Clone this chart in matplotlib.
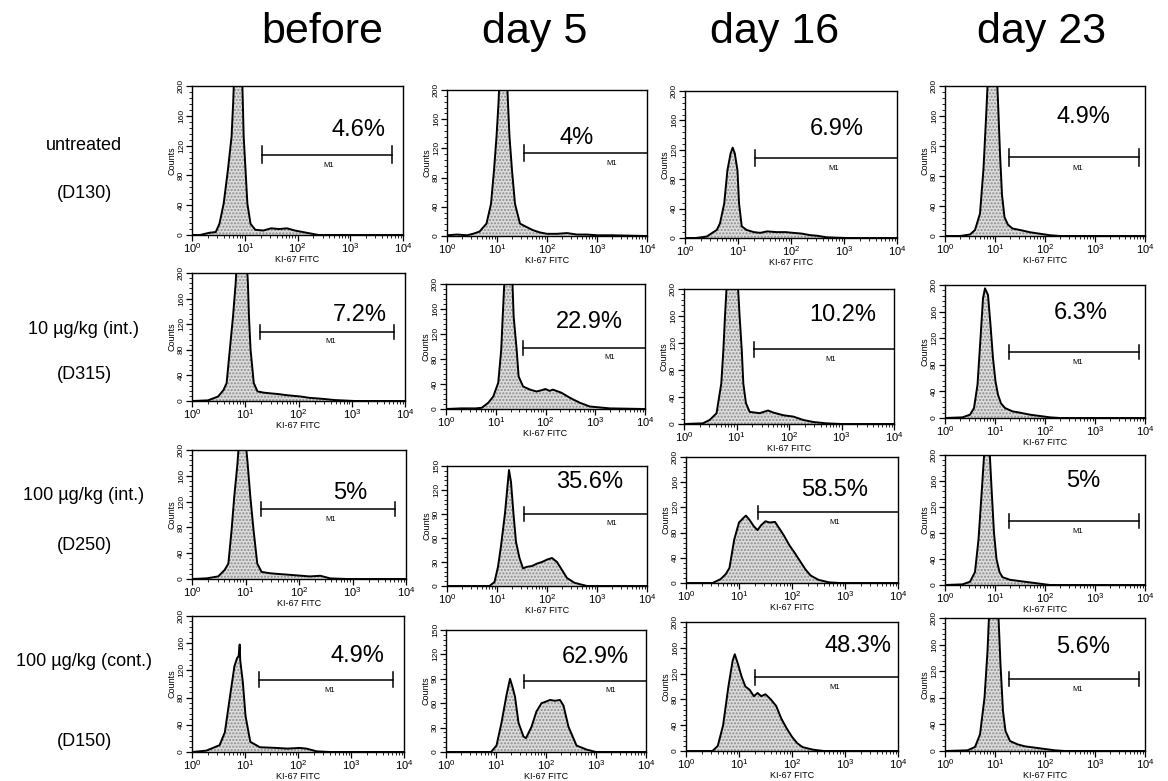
import matplotlib
matplotlib.use('Agg')
import matplotlib.pyplot as plt
import numpy as np
from matplotlib.ticker import AutoMinorLocator, LogLocator, NullFormatter, MultipleLocator

plt.rcParams['font.family'] = ['Liberation Sans', 'DejaVu Sans']

# column / row headings
col_titles = ['before', 'day 5', 'day 16', 'day 23']
row_titles = ['untreated', '10 µg/kg (int.)', '100 µg/kg (int.)', '100 µg/kg (cont.)']
row_ids = ['(D130)', '(D315)', '(D250)', '(D150)']

# histogram outlines: x in decades (log10 of KI-67 FITC), y = counts
# untreated (D130)
ut_before_x = [0, 0.15, 0.33, 0.45, 0.52, 0.60, 0.68, 0.75, 0.78, 0.80, 0.95, 0.98, 1.05, 1.11, 1.20, 1.35, 1.50, 1.65, 1.80, 1.95, 2.10, 2.25, 2.40, 4.0]
ut_before_y = [0, 0, 3, 4, 15, 42, 87, 132, 177, 215, 215, 132, 42, 15, 7, 6, 9, 8, 9, 6, 4, 2, 0, 0]
ut_day5_x = [0, 0.2, 0.4, 0.52, 0.65, 0.79, 0.88, 0.94, 0.99, 1.03, 1.05, 1.20, 1.22, 1.25, 1.30, 1.36, 1.46, 1.6, 1.72, 1.85, 2.0, 2.2, 2.4, 2.6, 2.8, 3.0, 3.3, 4.0]
ut_day5_y = [1, 2, 1, 3, 6, 17, 44, 90, 136, 182, 215, 215, 182, 136, 90, 44, 17, 12, 8, 5, 3, 3, 4, 2, 2, 1, 1, 0]
ut_day16_x = [0, 0.2, 0.41, 0.6, 0.66, 0.74, 0.80, 0.86, 0.90, 0.94, 0.99, 1.02, 1.07, 1.16, 1.3, 1.42, 1.55, 1.73, 1.9, 2.04, 2.2, 2.35, 2.5, 2.67, 3.05, 4.0]
ut_day16_y = [0, 0, 2, 11, 20, 47, 92, 115, 123, 115, 92, 47, 16, 11, 8, 7, 9, 8, 8, 7, 6, 4, 3, 1, 0, 0]
ut_day23_x = [0, 0.3, 0.5, 0.6, 0.7, 0.77, 0.83, 0.87, 1.02, 1.06, 1.10, 1.14, 1.19, 1.26, 1.35, 1.5, 1.7, 1.9, 2.1, 2.3, 4.0]
ut_day23_y = [0, 0, 2, 8, 30, 90, 170, 230, 240, 180, 110, 55, 25, 15, 10, 8, 5, 3, 1, 0, 0]

# 10 µg/kg (int.) (D315)
d315_before_x = [0, 0.3, 0.49, 0.59, 0.65, 0.71, 0.77, 0.82, 0.84, 1.03, 1.05, 1.07, 1.10, 1.16, 1.23, 1.35, 1.47, 1.6, 1.79, 2.04, 2.2, 2.36, 2.5, 2.68, 3.06, 4.0]
d315_before_y = [0, 1, 7, 17, 28, 80, 132, 184, 215, 215, 184, 132, 80, 28, 15, 13, 12, 11, 9, 7, 5, 4, 3, 1.5, 0, 0]
d315_day5_x = [0, 0.3, 0.6, 0.72, 0.85, 0.95, 1.05, 1.11, 1.14, 1.18, 1.33, 1.36, 1.42, 1.46, 1.55, 1.69, 1.82, 1.92, 2.0, 2.08, 2.15, 2.32, 2.49, 2.69, 2.89, 3.29, 4.0]
d315_day5_y = [0, 1, 1, 2, 10, 20, 42, 95, 148, 215, 215, 148, 95, 52, 36, 31, 28, 30, 32, 29, 31, 26, 18, 10, 4, 1, 0]
d315_day16_x = [0, 0.36, 0.49, 0.62, 0.71, 0.75, 0.78, 0.82, 1.02, 1.06, 1.10, 1.13, 1.18, 1.25, 1.44, 1.6, 1.7, 1.89, 2.08, 2.27, 2.46, 2.71, 3.0, 4.0]
d315_day16_y = [0, 1, 6, 16, 60, 110, 159, 215, 215, 159, 110, 60, 31, 18, 16, 20, 17, 13, 11, 6, 3, 1, 0, 0]
d315_day23_x = [0, 0.35, 0.5, 0.58, 0.65, 0.71, 0.76, 0.8, 0.86, 0.91, 0.96, 1.01, 1.06, 1.12, 1.2, 1.35, 1.5, 1.7, 1.9, 2.1, 2.3, 4.0]
d315_day23_y = [0, 1, 5, 15, 50, 120, 180, 195, 185, 140, 90, 55, 35, 22, 15, 10, 8, 5, 3, 1, 0, 0]

# 100 µg/kg (int.) (D250)
d250_before_x = [0, 0.27, 0.49, 0.61, 0.68, 0.74, 0.79, 0.85, 0.88, 1.00, 1.04, 1.09, 1.15, 1.22, 1.3, 1.45, 1.58, 1.75, 1.9, 2.05, 2.2, 2.4, 2.58, 2.9, 4.0]
d250_before_y = [0, 1, 4, 14, 24, 76, 128, 179, 215, 215, 179, 128, 76, 24, 11, 9, 8, 7, 6, 5, 4, 5, 1, 0, 0]
d250_day5_x = [0, 0.85, 0.95, 1.02, 1.08, 1.16, 1.21, 1.24, 1.28, 1.33, 1.38, 1.45, 1.52, 1.6, 1.7, 1.8, 1.9, 2.0, 2.1, 2.2, 2.3, 2.4, 2.55, 2.8, 4.0]
d250_day5_y = [0, 0, 5, 24, 50, 91, 125, 145, 130, 90, 55, 35, 22, 24, 25, 28, 30, 33, 35, 30, 20, 10, 4, 0, 0]
d250_day16_x = [0, 0.5, 0.55, 0.65, 0.75, 0.82, 0.91, 1.0, 1.08, 1.13, 1.2, 1.28, 1.35, 1.42, 1.5, 1.58, 1.68, 1.75, 1.85, 1.95, 2.05, 2.15, 2.25, 2.35, 2.5, 2.7, 2.9, 4.0]
d250_day16_y = [0, 0, 2, 6, 14, 24, 69, 96, 103, 107, 100, 90, 84, 92, 98, 96, 97, 88, 75, 60, 48, 35, 22, 12, 5, 1, 0, 0]
d250_day23_x = [0, 0.35, 0.5, 0.6, 0.67, 0.74, 0.79, 0.89, 0.93, 0.98, 1.03, 1.09, 1.15, 1.3, 1.5, 1.7, 1.9, 2.1, 4.0]
d250_day23_y = [0, 1, 5, 20, 70, 150, 210, 210, 150, 80, 40, 20, 12, 8, 6, 4, 2, 0, 0]

# 100 µg/kg (cont.) (D150)
d150_before_x = [0, 0.27, 0.52, 0.62, 0.71, 0.80, 0.85, 0.88, 0.90, 0.91, 0.96, 1.01, 1.1, 1.28, 1.59, 1.8, 2.03, 2.16, 2.35, 2.6, 4.0]
d150_before_y = [0, 2, 10, 29, 78, 126, 138, 141, 158, 135, 102, 53, 15, 7, 6, 5, 6, 5, 1, 0, 0]
d150_day5_x = [0, 0.9, 1.01, 1.11, 1.21, 1.28, 1.33, 1.38, 1.45, 1.55, 1.6, 1.71, 1.81, 1.91, 2.0, 2.08, 2.18, 2.28, 2.35, 2.45, 2.61, 2.81, 3.0, 4.0]
d150_day5_y = [0, 0, 8, 36, 70, 90, 80, 68, 36, 19, 17, 31, 50, 60, 62, 64, 63, 64, 57, 31, 8, 3, 0, 0]
d150_day16_x = [0, 0.5, 0.6, 0.7, 0.8, 0.88, 0.92, 0.98, 1.05, 1.12, 1.2, 1.28, 1.35, 1.42, 1.5, 1.6, 1.7, 1.8, 1.9, 2.0, 2.1, 2.2, 2.4, 2.6, 4.0]
d150_day16_y = [0, 0, 8, 40, 100, 140, 150, 135, 115, 100, 95, 85, 90, 85, 88, 80, 70, 50, 35, 22, 12, 6, 2, 0, 0]
d150_day23_x = [0, 0.45, 0.6, 0.7, 0.79, 0.85, 0.89, 1.06, 1.11, 1.16, 1.21, 1.3, 1.45, 1.6, 1.8, 2.0, 2.2, 2.4, 4.0]
d150_day23_y = [0, 1, 6, 25, 80, 150, 220, 220, 130, 60, 30, 15, 10, 7, 5, 3, 1, 0, 0]

# gate percentages (row by row)
pct_labels = [['4.6%', '4%', '6.9%', '4.9%'],
              ['7.2%', '22.9%', '10.2%', '6.3%'],
              ['5%', '35.6%', '58.5%', '5%'],
              ['4.9%', '62.9%', '48.3%', '5.6%']]
# M1 gate: start decade, end decade, level (counts)
m1_start = [[1.32, 1.54, 1.32, 1.28],
            [1.28, 1.55, 1.33, 1.28],
            [1.29, 1.54, 1.35, 1.28],
            [1.26, 1.56, 1.30, 1.28]]
m1_end = [3.8, 4.0, 4.0, 3.88]
m1_level = [[108, 114, 109, 105],
            [108, 98, 111, 99],
            [108, 90, 112, 98],
            [106, 87, 114, 108]]
y_max = [[200, 200, 200, 200],
         [200, 200, 200, 200],
         [200, 150, 200, 200],
         [200, 150, 200, 200]]

curves_x = [[ut_before_x, ut_day5_x, ut_day16_x, ut_day23_x],
            [d315_before_x, d315_day5_x, d315_day16_x, d315_day23_x],
            [d250_before_x, d250_day5_x, d250_day16_x, d250_day23_x],
            [d150_before_x, d150_day5_x, d150_day16_x, d150_day23_x]]
curves_y = [[ut_before_y, ut_day5_y, ut_day16_y, ut_day23_y],
            [d315_before_y, d315_day5_y, d315_day16_y, d315_day23_y],
            [d250_before_y, d250_day5_y, d250_day16_y, d250_day23_y],
            [d150_before_y, d150_day5_y, d150_day16_y, d150_day23_y]]

# layout in pixels: (left, bottom, right, top)
W, H = 1168, 781
boxes = [[(192, 235, 403, 86), (447, 236, 647, 90), (685, 238, 897, 91), (945, 236, 1145, 86)],
         [(192, 401, 405, 273), (446, 409, 645, 284), (684, 424, 894, 289), (945, 418, 1145, 285)],
         [(192, 579, 406, 450), (447, 586, 647, 466), (686, 583, 898, 457), (945, 585, 1145, 455)],
         [(192, 752, 404, 616), (446, 752, 646, 630), (686, 751, 898, 622), (945, 751, 1145, 618)]]
pct_pos = [[(3.15, 141), (2.59, 134), (2.86, 148), (2.76, 159)],
           [(3.15, 134), (2.89, 140), (3.03, 161), (2.72, 158)],
           [(2.96, 133), (2.86, 130), (2.80, 147), (2.76, 160)],
           [(3.13, 141), (2.98, 117), (3.25, 163), (2.76, 156)]]
m1_text_x = [2.6, 3.3, 2.8, 2.65]

fig = plt.figure(figsize=(W / 100, H / 100), dpi=100)

title_x = [322, 535, 775, 1042]
for t, tx in zip(col_titles, title_x):
    fig.text(tx / W, 1 - 32 / H, t, fontsize=31, ha='center', va='center')

row_y = [(146, 194), (330, 375), (496, 546), (662, 742)]
for (a, b), (ya, yb) in zip(zip(row_titles, row_ids), row_y):
    fig.text(84 / W, 1 - ya / H, a, fontsize=13, ha='center', va='center')
    fig.text(84 / W, 1 - yb / H, b, fontsize=13, ha='center', va='center')

for r in range(4):
    for c in range(4):
        l, b, rr, t = boxes[r][c]
        ax = fig.add_axes([l / W, 1 - b / H, (rr - l) / W, (b - t) / H])
        xs = 10 ** np.array(curves_x[r][c])
        ys = np.array(curves_y[r][c])
        ax.fill_between(xs, ys, 0, facecolor='#dcdcdc', edgecolor='#8c8c8c',
                        hatch='.....', linewidth=0)
        ax.plot(xs, ys, color='black', lw=1.4)
        ym = y_max[r][c]
        ax.set_xscale('log')
        ax.set_xlim(1, 1e4)
        ax.set_ylim(0, ym)
        ax.xaxis.set_major_locator(LogLocator(base=10, numticks=6))
        ax.xaxis.set_minor_locator(LogLocator(base=10, subs=np.arange(2, 10), numticks=12))
        ax.xaxis.set_minor_formatter(NullFormatter())
        ax.yaxis.set_major_locator(MultipleLocator(ym / 5))
        ax.yaxis.set_minor_locator(AutoMinorLocator(5))
        ax.tick_params(which='major', direction='out', length=4, width=0.9, pad=1)
        ax.tick_params(which='minor', direction='out', length=2, width=0.6)
        ax.tick_params(axis='x', labelsize=8, pad=0.5)
        ax.tick_params(axis='y', labelsize=6)
        for lab in ax.get_yticklabels():
            lab.set_rotation(90)
            lab.set_va('center')
        for s in ax.spines.values():
            s.set_linewidth(1.0)
        ax.set_xlabel('KI-67 FITC', fontsize=6.5, labelpad=0)
        ax.set_ylabel('Counts', fontsize=6.5, labelpad=1)

        # M1 gate
        s0 = 10 ** m1_start[r][c]
        s1 = 10 ** m1_end[c]
        lv = m1_level[r][c]
        cap = 0.055 * ym
        ax.plot([s0, s1], [lv, lv], color='black', lw=1.1)
        ax.plot([s0, s0], [lv - cap, lv + cap], color='black', lw=1.1)
        if m1_end[c] < 4:
            ax.plot([s1, s1], [lv - cap, lv + cap], color='black', lw=1.1)
        ax.text(10 ** m1_text_x[c], lv - 0.05 * ym, 'M1', fontsize=5.5, ha='center', va='top')

        px, py = pct_pos[r][c]
        ax.text(10 ** px, py, pct_labels[r][c], fontsize=17, ha='center', va='center')

fig.savefig('out.png', dpi=100)
